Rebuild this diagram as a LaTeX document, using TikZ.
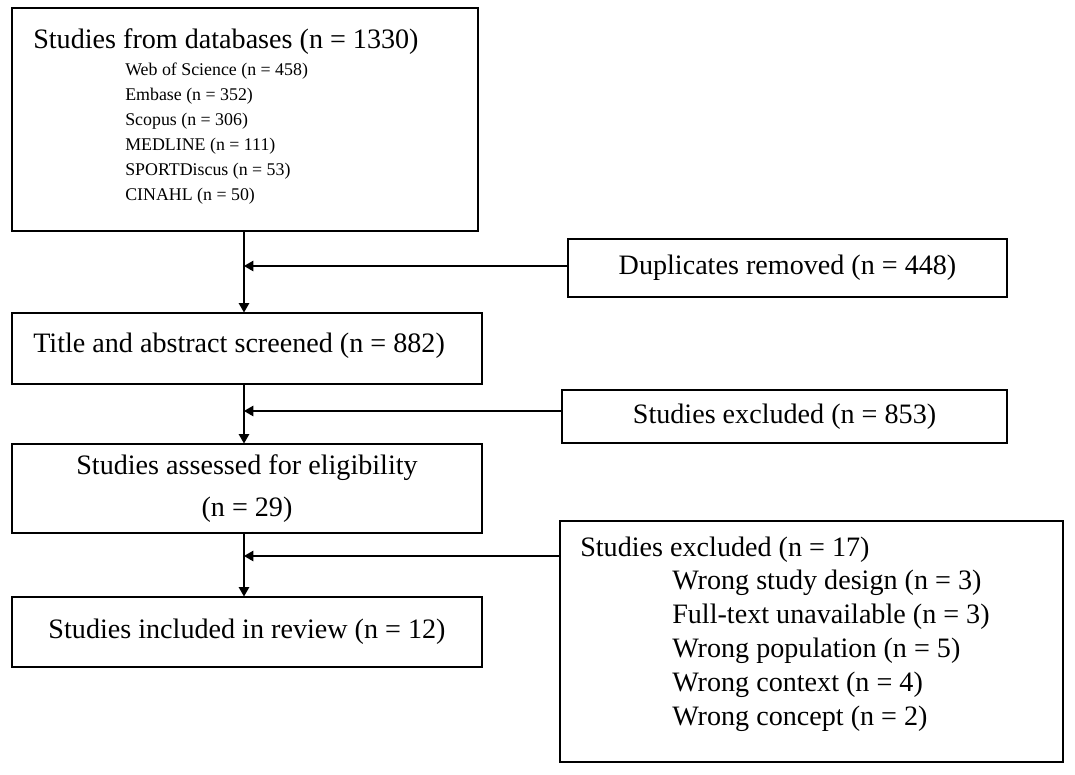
\documentclass[tikz,border=0pt]{standalone}
\usepackage{fontspec}
\setmainfont{Liberation Serif}
\usetikzlibrary{arrows}
\tikzstyle{box} = [rectangle, draw, thick, inner sep=0pt, font=\fontsize{20}{30}\selectfont, align=center]
\tikzstyle{big} = [inner sep=0pt, font=\fontsize{20}{24}\selectfont, anchor=west]
\tikzstyle{small} = [inner sep=0pt, font=\fontsize{12.7}{15}\selectfont, anchor=west]
\tikzstyle{arrow} = [thick,->,>=triangle 60]

\begin{document}
\begin{tikzpicture}[x=0.025cm, y=-0.025cm]
    \useasboundingbox (0,0) rectangle (1075,774);
    \node [box, minimum width=466*0.025cm, minimum height=223*0.025cm] at (245,119.5) (databases) {};
    \node [big] at (33,42) (dbtitle) {Studies from databases (n = 1330)};
    \foreach \name [count=\i] in {Web of Science (n = 458), Embase (n = 352), Scopus (n = 306), MEDLINE (n = 111), SPORTDiscus (n = 53), CINAHL (n = 50)}
        \node [small] at (125,46+25*\i) {\name};
    \node [box, minimum width=439*0.025cm, minimum height=58*0.025cm] at (787.5,268) (duplicates) {Duplicates removed (n = 448)};
    \node [box, minimum width=470*0.025cm, minimum height=71*0.025cm] at (247,348.5) (screened) {};
    \node [big] at (33,346) {Title and abstract screened (n = 882)};
    \node [box, minimum width=445*0.025cm, minimum height=53*0.025cm] at (784.5,416.5) (excluded1) {Studies excluded (n = 853)};
    \node [box, minimum width=470*0.025cm, minimum height=89*0.025cm] at (247,488.5) (assessed) {Studies assessed for eligibility\\(n = 29)};
    \node [box, minimum width=470*0.025cm, minimum height=70*0.025cm] at (247,632) (included) {Studies included in review (n = 12)};
    \node [box, minimum width=503*0.025cm, minimum height=241*0.025cm] at (811.5,641.5) (excluded2) {};
    \node [big] at (580,550) {Studies excluded (n = 17)};
    \foreach \name [count=\i] in {Wrong study design (n = 3), Full-text unavailable (n = 3), Wrong population (n = 5), Wrong context (n = 4), Wrong concept (n = 2)}
        \node [big] at (672,549+34*\i) {\name};

    \coordinate (j1) at (244,266);
    \coordinate (j2) at (244,411);
    \coordinate (j3) at (244,556);
    \draw [arrow] (databases.south -| j1) -- (screened.north -| j1);
    \draw [arrow] (screened.south -| j2) -- (assessed.north -| j2);
    \draw [arrow] (assessed.south -| j3) -- (included.north -| j3);
    \draw [arrow] (duplicates.west |- j1) -- (j1);
    \draw [arrow] (excluded1.west |- j2) -- (j2);
    \draw [arrow] (excluded2.west |- j3) -- (j3);
\end{tikzpicture}
\end{document}
